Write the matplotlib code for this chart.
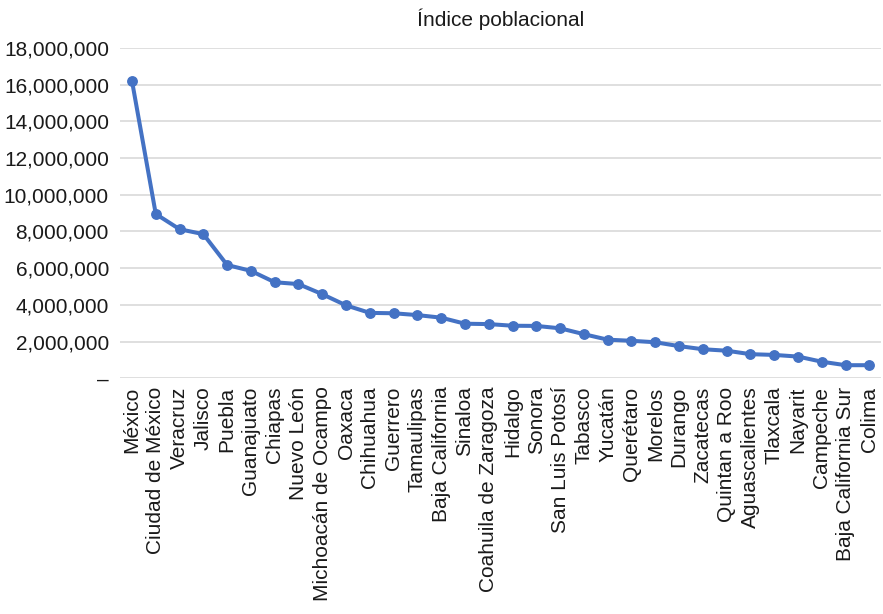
import numpy as np
import matplotlib
matplotlib.use('Agg')
import matplotlib.pyplot as plt
from matplotlib.ticker import FuncFormatter

plt.rcParams['font.family'] = ['Liberation Sans', 'DejaVu Sans']

# estados ordenados por poblacion
estados = ['México', 'Ciudad de México', 'Veracruz', 'Jalisco', 'Puebla',
           'Guanajuato', 'Chiapas', 'Nuevo León', 'Michoacán de Ocampo',
           'Oaxaca', 'Chihuahua', 'Guerrero', 'Tamaulipas', 'Baja California',
           'Sinaloa', 'Coahuila de Zaragoza', 'Hidalgo', 'Sonora',
           'San Luis Potosí', 'Tabasco', 'Yucatán', 'Querétaro', 'Morelos',
           'Durango', 'Zacatecas', 'Quintan a Roo', 'Aguascalientes',
           'Tlaxcala', 'Nayarit', 'Campeche', 'Baja California Sur', 'Colima']

poblacion = [16200000, 8950000, 8120000, 7850000, 6170000,
             5850000, 5230000, 5130000, 4580000,
             3970000, 3560000, 3540000, 3440000, 3300000,
             2970000, 2950000, 2860000, 2850000,
             2720000, 2400000, 2100000, 2040000, 1960000,
             1750000, 1580000, 1500000, 1310000,
             1270000, 1180000, 900000, 710000, 710000]

yticks = np.arange(0, 18000001, 2000000)

def fmt_miles(v, pos):
    if v == 0:
        return '–'
    return '{:,.0f}'.format(v)

fig = plt.figure(figsize=(8.83, 6.14), dpi=100)
ax = fig.add_axes([0.136, 0.384, 0.862, 0.538])

x = np.arange(len(estados))
ax.plot(x, poblacion, color='#4472C4', lw=2.9, marker='o', ms=6.8,
        zorder=3)

ax.set_xlim(-0.5, len(estados) - 0.5)
ax.set_ylim(0, 18000000)
ax.set_yticks(yticks)
ax.yaxis.set_major_formatter(FuncFormatter(fmt_miles))
ax.grid(axis='y', color='#d9d9d9', lw=1.2)
ax.set_axisbelow(True)
for s in ax.spines.values():
    s.set_visible(False)

ax.set_xticks(x)
ax.set_xticklabels(estados, rotation=90, fontsize=15)
ax.tick_params(axis='both', length=0, labelsize=15, colors='#1a1a1a')
ax.tick_params(axis='x', pad=6)
ax.tick_params(axis='y', pad=8)

ax.set_title('Índice poblacional', fontsize=15, color='#1a1a1a', pad=16)

fig.savefig('out.png', dpi=100)
